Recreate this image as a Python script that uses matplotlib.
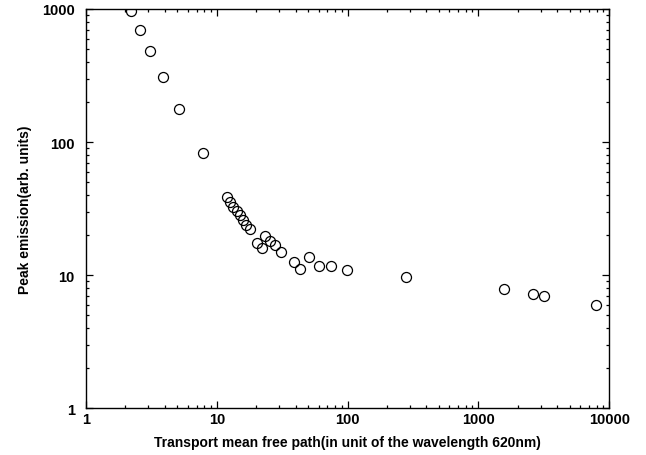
import matplotlib
matplotlib.use("Agg")
import matplotlib.pyplot as plt
from matplotlib.ticker import LogLocator, FixedFormatter, FixedLocator, NullFormatter

# Transport mean free path (in units of the 620 nm wavelength)
mean_free_path = [
    2.19, 2.59, 3.11, 3.86, 5.17, 7.78,
    11.9, 12.6, 13.4, 14.2, 15.0, 15.9, 16.8, 17.8,
    20.3, 22.1, 23.5, 25.7, 27.8, 30.8,
    38.6, 43.3, 50.6, 60.7, 75.2, 98.8,
    280, 1560, 2616, 3141, 7888,
]
# Peak emission (arbitrary units)
peak_emission = [
    966, 699, 486, 310, 178, 82.4,
    38.4, 35.5, 32.8, 30.4, 28.1, 26.0, 24.0, 22.2,
    17.5, 15.9, 19.7, 18.2, 16.9, 14.9,
    12.6, 11.2, 13.8, 11.8, 11.8, 11.0,
    9.7, 7.9, 7.2, 6.98, 5.97,
]

x_ticks = [1, 10, 100, 1000, 10000]
x_tick_labels = ["1", "10", "100", "1000", "10000"]
y_ticks = [1, 10, 100, 1000]
y_tick_labels = ["1", "10", "100", "1000"]

plt.rcParams["font.family"] = ["Liberation Sans", "DejaVu Sans"]

fig = plt.figure(figsize=(6.46, 4.56), dpi=100)
ax = fig.add_axes([0.1331, 0.1024, 0.8101, 0.8757])

ax.plot(mean_free_path, peak_emission, linestyle="none", marker="o",
        markersize=7.2, markerfacecolor="none", markeredgecolor="black",
        markeredgewidth=0.9)

ax.set_xscale("log")
ax.set_yscale("log")
ax.set_xlim(1, 10000)
ax.set_ylim(1, 1000)

ax.xaxis.set_major_locator(FixedLocator(x_ticks))
ax.xaxis.set_major_formatter(FixedFormatter(x_tick_labels))
ax.yaxis.set_major_locator(FixedLocator(y_ticks))
ax.yaxis.set_major_formatter(FixedFormatter(y_tick_labels))
ax.xaxis.set_minor_locator(LogLocator(base=10, subs=range(2, 10)))
ax.yaxis.set_minor_locator(LogLocator(base=10, subs=range(2, 10)))
ax.xaxis.set_minor_formatter(NullFormatter())
ax.yaxis.set_minor_formatter(NullFormatter())

ax.tick_params(which="both", direction="in", top=True, right=True,
               colors="black", width=0.9)
ax.tick_params(which="major", length=5, labelsize=10.5)
ax.tick_params(axis="x", which="major", pad=3)
ax.tick_params(axis="y", which="major", pad=8)
ax.tick_params(which="minor", length=2.5)
for lbl in ax.get_xticklabels() + ax.get_yticklabels():
    lbl.set_fontweight("bold")

for spine in ax.spines.values():
    spine.set_linewidth(1.0)
    spine.set_color("black")

ax.set_xlabel("Transport mean free path(in unit of the wavelength 620nm)",
              fontsize=10, fontweight="bold", labelpad=6)
ax.set_ylabel("Peak emission(arb. units)", fontsize=10,
              fontweight="bold", labelpad=7)

fig.savefig("out.png", dpi=100)
